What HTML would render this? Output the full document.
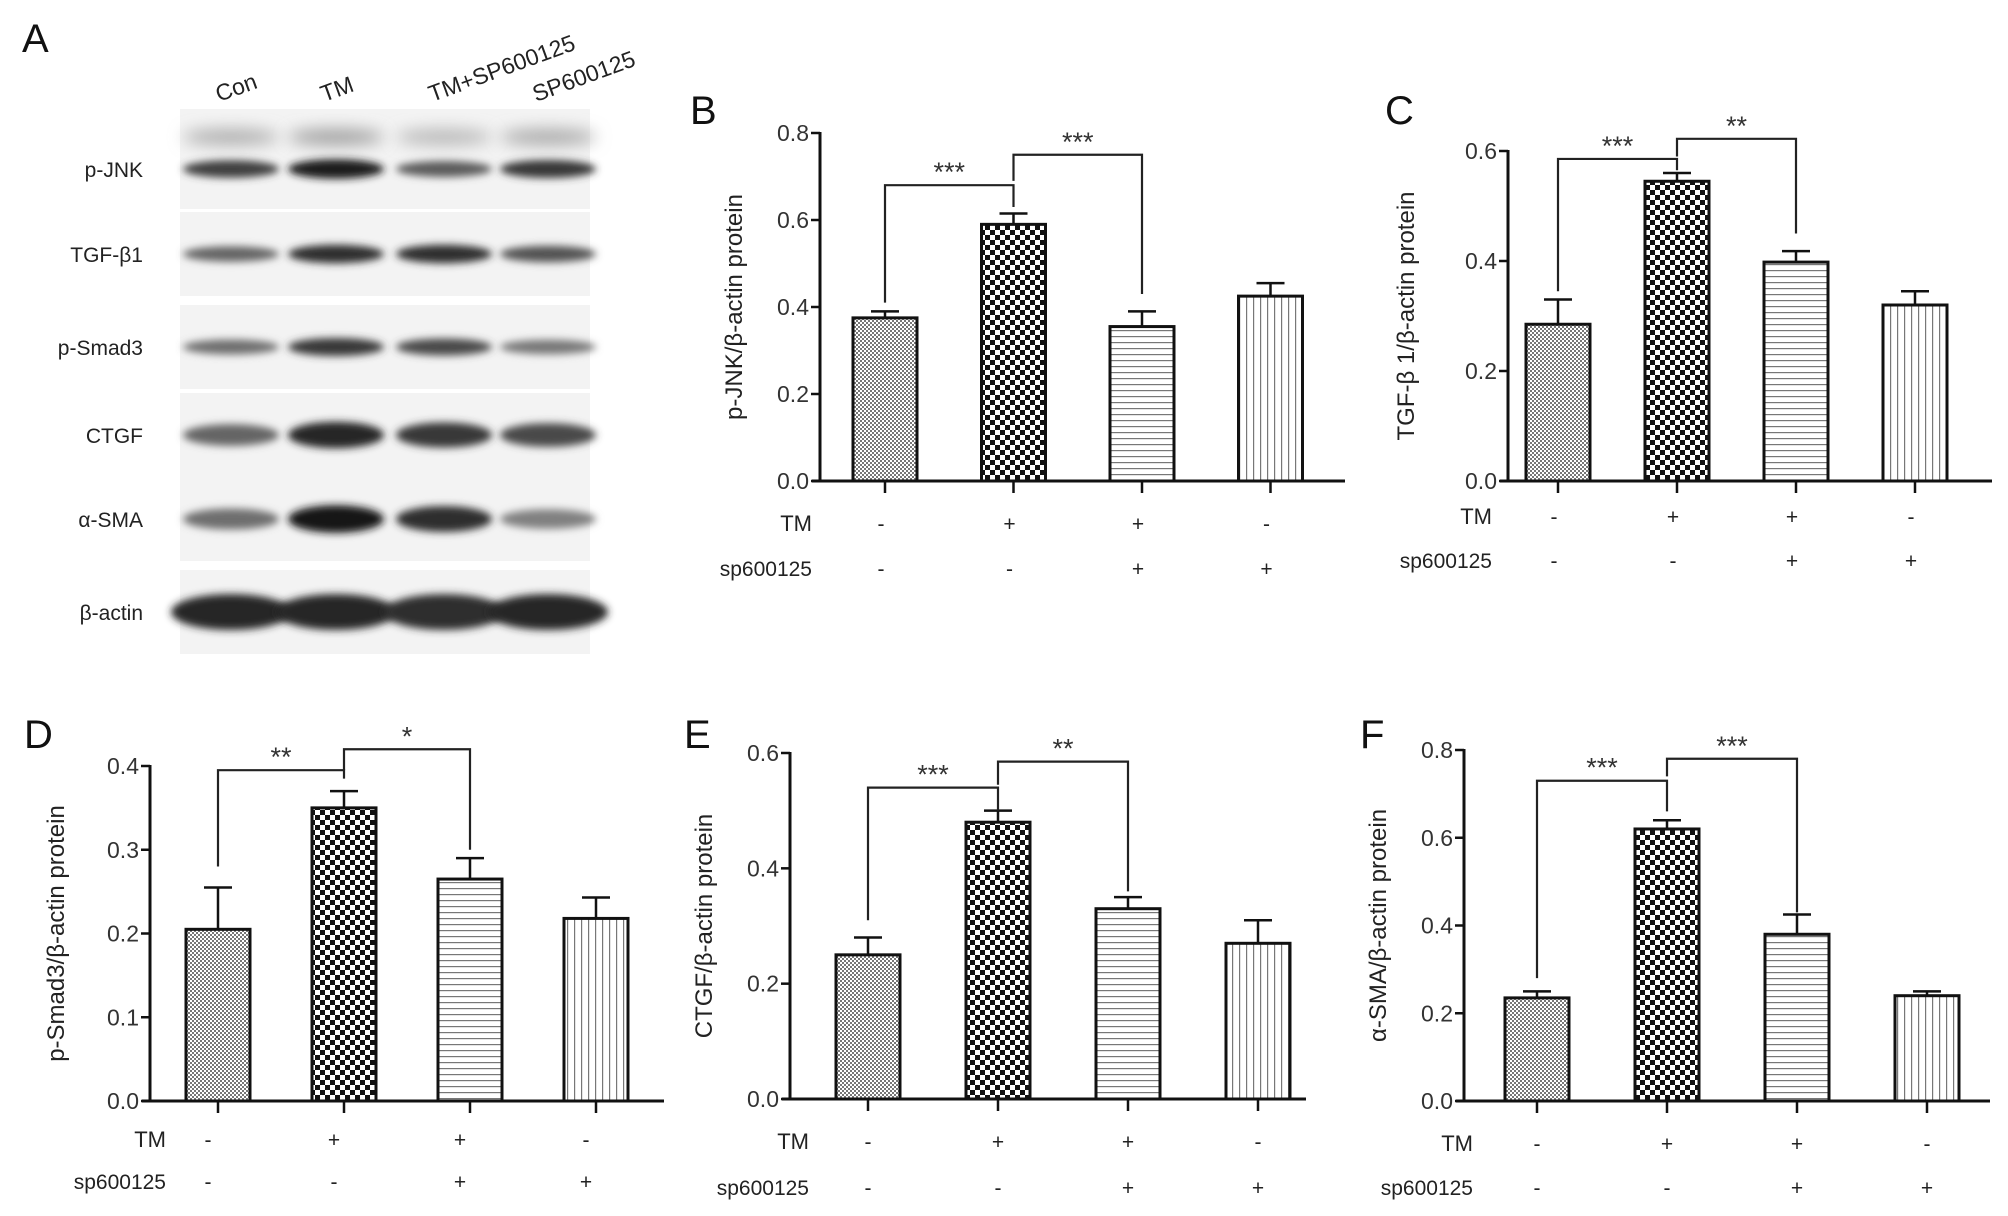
<!DOCTYPE html>
<html><head><meta charset="utf-8"><style>
html,body{margin:0;padding:0;background:#fff}
svg{display:block;font-family:"Liberation Sans",sans-serif}
</style></head><body>
<svg id="fig" width="2008" height="1216" viewBox="0 0 2008 1216" xmlns="http://www.w3.org/2000/svg">
<defs>
<pattern id="pFine" width="4" height="4" patternUnits="userSpaceOnUse"><rect width="4" height="4" fill="#fff"/><rect width="2" height="2" fill="#777"/><rect x="2" y="2" width="2" height="2" fill="#777"/></pattern>
<pattern id="pCoarse" width="10" height="10" patternUnits="userSpaceOnUse"><rect width="10" height="10" fill="#fff"/><rect width="5" height="5" fill="#111"/><rect x="5" y="5" width="5" height="5" fill="#111"/></pattern>
<pattern id="pHoriz" width="8" height="6" patternUnits="userSpaceOnUse"><rect width="8" height="6" fill="#fff"/><rect y="0" width="8" height="1.2" fill="#777"/></pattern>
<pattern id="pVert" width="7" height="8" patternUnits="userSpaceOnUse"><rect width="7" height="8" fill="#fff"/><rect x="0" width="1.2" height="8" fill="#777"/></pattern>
<filter id="blur4" x="-30%" y="-100%" width="160%" height="300%"><feGaussianBlur stdDeviation="4"/></filter>
<filter id="blur8" x="-30%" y="-100%" width="160%" height="300%"><feGaussianBlur stdDeviation="8"/></filter>
</defs>
<g id="blot"></g>
<g id="charts"></g>
</svg>
<script>
const NS='http://www.w3.org/2000/svg';
const svg=document.getElementById('fig');
function mk(tag,attrs,parent,text){const e=document.createElementNS(NS,tag);for(const k in attrs)e.setAttribute(k,attrs[k]);if(text!==undefined)e.textContent=text;(parent||svg).appendChild(e);return e;}

// ---- data ----
const categories=['Con','TM','TM+SP600125','SP600125'];
const tmSigns=['-','+','+','-'];
const spSigns=['-','-','+','+'];
const pjnkValues=[0.375,0.59,0.355,0.425];
const pjnkErrors=[0.015,0.025,0.035,0.03];
const pjnkTicks=['0.0','0.2','0.4','0.6','0.8'];
const tgfValues=[0.285,0.545,0.398,0.32];
const tgfErrors=[0.045,0.015,0.02,0.025];
const tgfTicks=['0.0','0.2','0.4','0.6'];
const smadValues=[0.205,0.35,0.265,0.218];
const smadErrors=[0.05,0.02,0.025,0.025];
const smadTicks=['0.0','0.1','0.2','0.3','0.4'];
const ctgfValues=[0.25,0.48,0.33,0.27];
const ctgfErrors=[0.03,0.02,0.02,0.04];
const ctgfTicks=['0.0','0.2','0.4','0.6'];
const smaValues=[0.235,0.62,0.38,0.24];
const smaErrors=[0.015,0.02,0.045,0.01];
const smaTicks=['0.0','0.2','0.4','0.6','0.8'];
const pjnkSig=['***','***'];
const tgfSig=['***','**'];
const smadSig=['**','*'];
const ctgfSig=['***','**'];
const smaSig=['***','***'];
const blotRows=['p-JNK','TGF-β1','p-Smad3','CTGF','α-SMA','β-actin'];
const blotIntensity=[[0.75,0.95,0.6,0.8],[0.55,0.85,0.85,0.65],[0.5,0.8,0.7,0.45],[0.55,0.9,0.8,0.7],[0.5,0.98,0.85,0.4],[0.9,0.9,0.85,0.9]];

const fills=['url(#pFine)','url(#pCoarse)','url(#pHoriz)','url(#pVert)'];

// ---- blot ----
const blot=document.getElementById('blot');
let t=mk('text',{x:22,y:52,'font-size':40,fill:'#111'},blot,'A');


const laneX=[231,336,444,548];
const rowY=[169,254,347,435,519,612];
categories.forEach((c,i)=>{
  const lt=mk('text',{x:laneX[i]-12,y:102,'font-size':23,fill:'#222',transform:`rotate(-20 ${laneX[i]-12} 102)`},blot,c);
  
  
});
blotRows.forEach((r,ri)=>{
  const y=rowY[ri];
  const bg=mk('rect',{x:180,y:y-(ri===0?60:42),width:410,height:(ri===0?100:84),fill:'#f3f3f3'},blot);
  
  
  const lab=mk('text',{x:143,y:y+8,'font-size':21,fill:'#222','text-anchor':'end'},blot,r);
  
  
  laneX.forEach((x,li)=>{
    const v=blotIntensity[ri][li];
    const h=ri===5?36:(ri===4||ri===3?14+v*14:10+v*10);
    const g=Math.round(200-v*180);
    const b=mk('ellipse',{cx:x,cy:y,rx:ri===5?60:48,ry:h/2,fill:`rgb(${g},${g},${g})`,filter:'url(#blur4)'},blot);
    
    
    if(ri===0){const g2=Math.round(225-v*70);
      const b2=mk('ellipse',{cx:x,cy:y-32,rx:48,ry:8,fill:`rgb(${g2},${g2},${g2})`,filter:'url(#blur8)'},blot);
      
      }
  });
});

// ---- charts ----
function drawPanel(name,letter,cfg,values,errors,ticks,sig,brackets){
  const g=mk('g',{},document.getElementById('charts'));
  
  
  const max=parseFloat(ticks[ticks.length-1]);
  const y=v=>cfg.zeroY-v/max*(cfg.zeroY-cfg.topY);
  const x=i=>cfg.x0+i*cfg.step;
  let e;
  e=mk('text',{x:cfg.lx,y:cfg.ly,'font-size':40,fill:'#111'},g,letter);
  
  
  values.forEach((v,i)=>{
    const top=y(v+errors[i]);
    e=mk('line',{x1:x(i),x2:x(i),y1:y(v),y2:top,stroke:'#111','stroke-width':2.5},g);
    
    
    e=mk('line',{x1:x(i)-14,x2:x(i)+14,y1:top,y2:top,stroke:'#111','stroke-width':2.5},g);
    
    
    e=mk('rect',{x:x(i)-32,y:y(v),width:64,height:cfg.zeroY-y(v),fill:fills[i],stroke:'#111','stroke-width':3},g);
    
    
    e=mk('line',{x1:x(i),x2:x(i),y1:cfg.zeroY,y2:cfg.zeroY+12,stroke:'#111','stroke-width':2.5},g);
    
    
    e=mk('text',{x:x(i)-cfg.signShift,y:cfg.tmY,'font-size':21,fill:'#222','text-anchor':'middle'},g,tmSigns[i]);
    
    
    e=mk('text',{x:x(i)-cfg.signShift,y:cfg.spY,'font-size':21,fill:'#222','text-anchor':'middle'},g,spSigns[i]);
    
    
  });
  e=mk('line',{x1:cfg.axisX,x2:cfg.axisX,y1:cfg.topY-1,y2:cfg.zeroY+1.5,stroke:'#111','stroke-width':3},g);
  
  
  e=mk('line',{x1:cfg.axisX-8,x2:cfg.xEnd,y1:cfg.zeroY,y2:cfg.zeroY,stroke:'#111','stroke-width':3},g);
  
  
  ticks.forEach(tk=>{
    const ty=y(parseFloat(tk));
    e=mk('line',{x1:cfg.axisX-9,x2:cfg.axisX,y1:ty,y2:ty,stroke:'#111','stroke-width':2.5},g);
    
    
    e=mk('text',{x:cfg.axisX-11,y:ty+8,'font-size':23,fill:'#333','text-anchor':'end'},g,tk);
    
    
  });
  const cy=(cfg.topY+cfg.zeroY)/2;
  e=mk('text',{x:cfg.ylx,y:cy,'font-size':24,fill:'#222','text-anchor':'middle',transform:`rotate(-90 ${cfg.ylx} ${cy})`},g,cfg.ylabel);
  
  
  e=mk('text',{x:cfg.labX,y:cfg.tmY,'font-size':22,fill:'#222','text-anchor':'end'},g,'TM');
  
  
  e=mk('text',{x:cfg.labX,y:cfg.spY,'font-size':21,fill:'#222','text-anchor':'end'},g,'sp600125');
  
  
  brackets.forEach((b,k)=>{
    const [lv,ld,rd,a,c]=b;
    e=mk('polyline',{points:`${x(a)},${y(ld)} ${x(a)},${y(lv)} ${x(c)},${y(lv)} ${x(c)},${y(rd)}`,fill:'none',stroke:'#222','stroke-width':2.2},g);
    
    
    e=mk('text',{x:(x(a)+x(c))/2,y:y(lv)-4,'font-size':27,fill:'#333','text-anchor':'middle'},g,sig[k]);
    
    
  });
}

drawPanel('p-jnk','B',{axisX:820,topY:133,zeroY:481,x0:885,step:128.5,xEnd:1345,tmY:531,spY:576,labX:812,ylx:742,ylabel:'p-JNK/β-actin protein',lx:690,ly:124,signShift:4},
  pjnkValues,pjnkErrors,pjnkTicks,pjnkSig,[[0.68,0.41,0.63,0,1],[0.75,0.69,0.43,1,2]]);
drawPanel('tgf-b1','C',{axisX:1508,topY:151,zeroY:481,x0:1558,step:119,xEnd:1992,tmY:524,spY:568,labX:1492,ylx:1414,ylabel:'TGF-β 1/β-actin protein',lx:1385,ly:124,signShift:4},
  tgfValues,tgfErrors,tgfTicks,tgfSig,[[0.5856,0.345,0.565,0,1],[0.6222,0.59,0.45,1,2]]);
drawPanel('p-smad3','D',{axisX:150,topY:766,zeroY:1101,x0:218,step:126,xEnd:664,tmY:1147,spY:1189,labX:166,ylx:64,ylabel:'p-Smad3/β-actin protein',lx:24,ly:748,signShift:10},
  smadValues,smadErrors,smadTicks,smadSig,[[0.395,0.28,0.385,0,1],[0.42,0.395,0.3,1,2]]);
drawPanel('ctgf','E',{axisX:790,topY:753,zeroY:1099,x0:868,step:130,xEnd:1306,tmY:1149,spY:1195,labX:809,ylx:712,ylabel:'CTGF/β-actin protein',lx:684,ly:748,signShift:0},
  ctgfValues,ctgfErrors,ctgfTicks,ctgfSig,[[0.54,0.31,0.5,0,1],[0.585,0.545,0.36,1,2]]);
drawPanel('a-sma','F',{axisX:1464,topY:750,zeroY:1101,x0:1537,step:130,xEnd:1990,tmY:1151,spY:1195,labX:1473,ylx:1386,ylabel:'α-SMA/β-actin protein',lx:1360,ly:748,signShift:0},
  smaValues,smaErrors,smaTicks,smaSig,[[0.73,0.28,0.66,0,1],[0.78,0.74,0.43,1,2]]);
</script>
</body></html>
